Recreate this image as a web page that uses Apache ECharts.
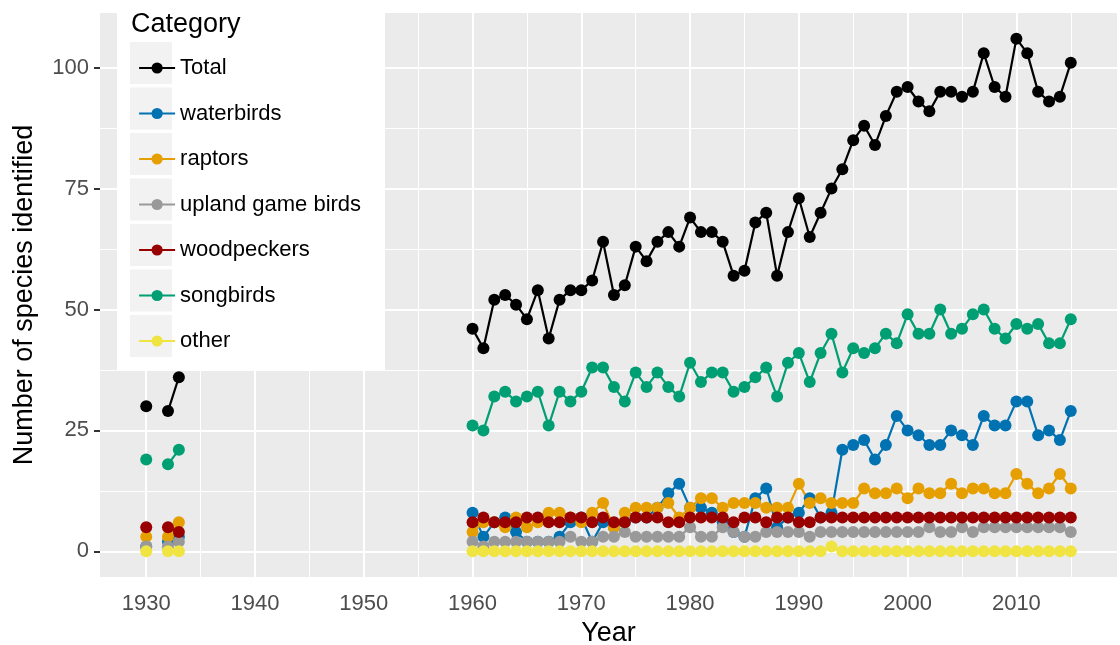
<!DOCTYPE html>
<html>
<head>
<meta charset="utf-8">
<script src="https://cdn.jsdelivr.net/npm/echarts@6/dist/echarts.min.js"></script>
<style>
  html, body { margin: 0; padding: 0; background: #ffffff; }
  #chart { width: 1120px; height: 645px; }
</style>
</head>
<body>
<div id="chart"></div>
<script>
// survey years (1931 and 1934-1959 missing)
var years = [1930, 1932, 1933,
  1960, 1961, 1962, 1963, 1964, 1965, 1966, 1967, 1968, 1969,
  1970, 1971, 1972, 1973, 1974, 1975, 1976, 1977, 1978, 1979,
  1980, 1981, 1982, 1983, 1984, 1985, 1986, 1987, 1988, 1989,
  1990, 1991, 1992, 1993, 1994, 1995, 1996, 1997, 1998, 1999,
  2000, 2001, 2002, 2003, 2004, 2005, 2006, 2007, 2008, 2009,
  2010, 2011, 2012, 2013, 2014, 2015];

var total = [30, 29, 36,
  46, 42, 52, 53, 51, 48, 54, 44, 52, 54,
  54, 56, 64, 53, 55, 63, 60, 64, 66, 63,
  69, 66, 66, 64, 57, 58, 68, 70, 57, 66,
  73, 65, 70, 75, 79, 85, 88, 84, 90, 95,
  96, 93, 91, 95, 95, 94, 95, 103, 96, 94,
  106, 103, 95, 93, 94, 101];
var waterbirds = [1, 2, 3,
  8, 3, 6, 7, 4, 2, 2, 2, 3, 6,
  7, 2, 6, 5, 6, 7, 7, 9, 12, 14,
  9, 9, 8, 6, 4, 3, 11, 13, 5, 7,
  8, 11, 7, 8, 21, 22, 23, 19, 22, 28,
  25, 24, 22, 22, 25, 24, 22, 28, 26, 26,
  31, 31, 24, 25, 23, 29];
var raptors = [3, 3, 6,
  4, 6, 6, 5, 7, 5, 6, 8, 8, 7,
  6, 8, 10, 5, 8, 9, 9, 9, 10, 7,
  9, 11, 11, 9, 10, 10, 10, 9, 9, 9,
  14, 10, 11, 10, 10, 10, 13, 12, 12, 13,
  11, 13, 12, 12, 14, 12, 13, 13, 12, 12,
  16, 14, 12, 13, 16, 13];
var upland = [1, 1, 2,
  2, 1, 2, 2, 2, 2, 2, 2, 2, 3,
  2, 2, 3, 3, 4, 3, 3, 3, 3, 3,
  5, 3, 3, 5, 4, 3, 3, 4, 4, 4,
  4, 3, 4, 4, 4, 4, 4, 4, 4, 4,
  4, 4, 5, 4, 4, 5, 4, 5, 5, 5,
  5, 5, 5, 5, 5, 4];
var woodpeckers = [5, 5, 4,
  6, 7, 6, 6, 6, 7, 7, 6, 6, 7,
  7, 6, 7, 6, 6, 7, 7, 7, 6, 6,
  7, 7, 7, 7, 6, 7, 7, 6, 7, 7,
  6, 6, 7, 7, 7, 7, 7, 7, 7, 7,
  7, 7, 7, 7, 7, 7, 7, 7, 7, 7,
  7, 7, 7, 7, 7, 7];
var songbirds = [19, 18, 21,
  26, 25, 32, 33, 31, 32, 33, 26, 33, 31,
  33, 38, 38, 34, 31, 37, 34, 37, 34, 32,
  39, 35, 37, 37, 33, 34, 36, 38, 32, 39,
  41, 35, 41, 45, 37, 42, 41, 42, 45, 43,
  49, 45, 45, 50, 45, 46, 49, 50, 46, 44,
  47, 46, 47, 43, 43, 48];
var other = [0, 0, 0,
  0, 0, 0, 0, 0, 0, 0, 0, 0, 0,
  0, 0, 0, 0, 0, 0, 0, 0, 0, 0,
  0, 0, 0, 0, 0, 0, 0, 0, 0, 0,
  0, 0, 0, 1, 0, 0, 0, 0, 0, 0,
  0, 0, 0, 0, 0, 0, 0, 0, 0, 0,
  0, 0, 0, 0, 0, 0];

var categories = ['Total', 'waterbirds', 'raptors', 'upland game birds', 'woodpeckers', 'songbirds', 'other'];
var colors = ['#000000', '#0072B2', '#E69F00', '#999999', '#990000', '#009E73', '#F0E442'];
var seriesValues = [total, waterbirds, raptors, upland, woodpeckers, songbirds, other];

var xTicks = [1930, 1940, 1950, 1960, 1970, 1980, 1990, 2000, 2010];
var xMinor = [1935, 1945, 1955, 1965, 1975, 1985, 1995, 2005, 2015];
var yTicks = [0, 25, 50, 75, 100];
var yMinor = [12.5, 37.5, 62.5, 87.5];

// pair years with values, break the line where years are missing
function toPoints(vals) {
    var out = [];
    for (var i = 0; i < years.length; i++) {
        if (i > 0 && years[i] - years[i - 1] > 1) out.push([years[i - 1] + 1, '-']);
        out.push([years[i], vals[i]]);
    }
    return out;
}

function gridLines(vals, axis, width) {
    return vals.map(function (v) {
        var d = { lineStyle: { color: '#ffffff', width: width, type: 'solid' } };
        d[axis] = v;
        return d;
    });
}

var series = [{
    name: 'grid',
    type: 'line',
    data: [],
    z: 1,
    silent: true,
    markLine: {
        z: 1,
        silent: true,
        symbol: ['none', 'none'],
        label: { show: false },
        emphasis: { disabled: true },
        animation: false,
        data: gridLines(yMinor, 'yAxis', 1).concat(gridLines(xMinor, 'xAxis', 1))
            .concat(gridLines(yTicks, 'yAxis', 2)).concat(gridLines(xTicks, 'xAxis', 2))
    }
}];

categories.forEach(function (name, i) {
    series.push({
        name: name,
        type: 'line',
        data: toPoints(seriesValues[i]),
        connectNulls: false,
        symbol: 'circle',
        symbolSize: 12,
        showSymbol: true,
        color: colors[i],
        lineStyle: { width: 2.2, color: colors[i], type: 'solid' },
        itemStyle: { color: colors[i] },
        z: 2
    });
});

var tickText = { color: '#4D4D4D', fontSize: 22, fontFamily: 'Liberation Sans' };

var option = {
    animation: false,
    backgroundColor: '#ffffff',
    textStyle: { fontFamily: 'Liberation Sans' },
    grid: {
        left: 100, right: 3, top: 13, bottom: 68,
        outerBoundsMode: 'none',
        show: true, backgroundColor: '#EBEBEB', borderWidth: 0
    },
    title: {
        text: 'Category',
        left: 126, top: 6,
        textStyle: { fontSize: 27, fontWeight: 'normal', color: '#000000', fontFamily: 'Liberation Sans' }
    },
    legend: {
        data: categories,
        orient: 'vertical',
        left: 133, top: 51,
        itemWidth: 36, itemHeight: 14,
        itemGap: 21.5,
        lineStyle: { type: 'solid', width: 2.2 },
        textStyle: { fontSize: 22, color: '#000000', fontFamily: 'Liberation Sans', lineHeight: 24 }
    },
    graphic: [
        { type: 'rect', z: 3, shape: { x: 117, y: 13, width: 268, height: 357 }, style: { fill: '#ffffff' } }
    ].concat(categories.map(function (c, i) {
        return { type: 'rect', z: 3, shape: { x: 130, y: 42 + i * 45.5, width: 42, height: 42 }, style: { fill: '#F2F2F2' } };
    })),
    xAxis: {
        type: 'value',
        min: 1925.75, max: 2019.25,
        name: 'Year',
        nameLocation: 'middle',
        nameGap: 42,
        nameTextStyle: { fontSize: 27, color: '#000000', fontFamily: 'Liberation Sans' },
        axisLine: { show: false },
        axisTick: { show: true, customValues: xTicks, length: 6, lineStyle: { color: '#333333', width: 2 } },
        axisLabel: {
            customValues: xTicks, margin: 16,
            formatter: function (v) { return String(v); },
            color: tickText.color, fontSize: tickText.fontSize, fontFamily: tickText.fontFamily
        },
        splitLine: { show: false }
    },
    yAxis: {
        type: 'value',
        min: -5.3, max: 111.3,
        name: 'Number of species identified',
        nameLocation: 'middle',
        nameGap: 62,
        nameTextStyle: { fontSize: 27, color: '#000000', fontFamily: 'Liberation Sans' },
        axisLine: { show: false },
        axisTick: { show: true, customValues: yTicks, length: 6, lineStyle: { color: '#333333', width: 2 } },
        axisLabel: { customValues: yTicks, margin: 11, color: tickText.color, fontSize: tickText.fontSize, fontFamily: tickText.fontFamily },
        splitLine: { show: false }
    },
    series: series
};

var chart = echarts.init(document.getElementById('chart'));
chart.setOption(option);
</script>
</body>
</html>
